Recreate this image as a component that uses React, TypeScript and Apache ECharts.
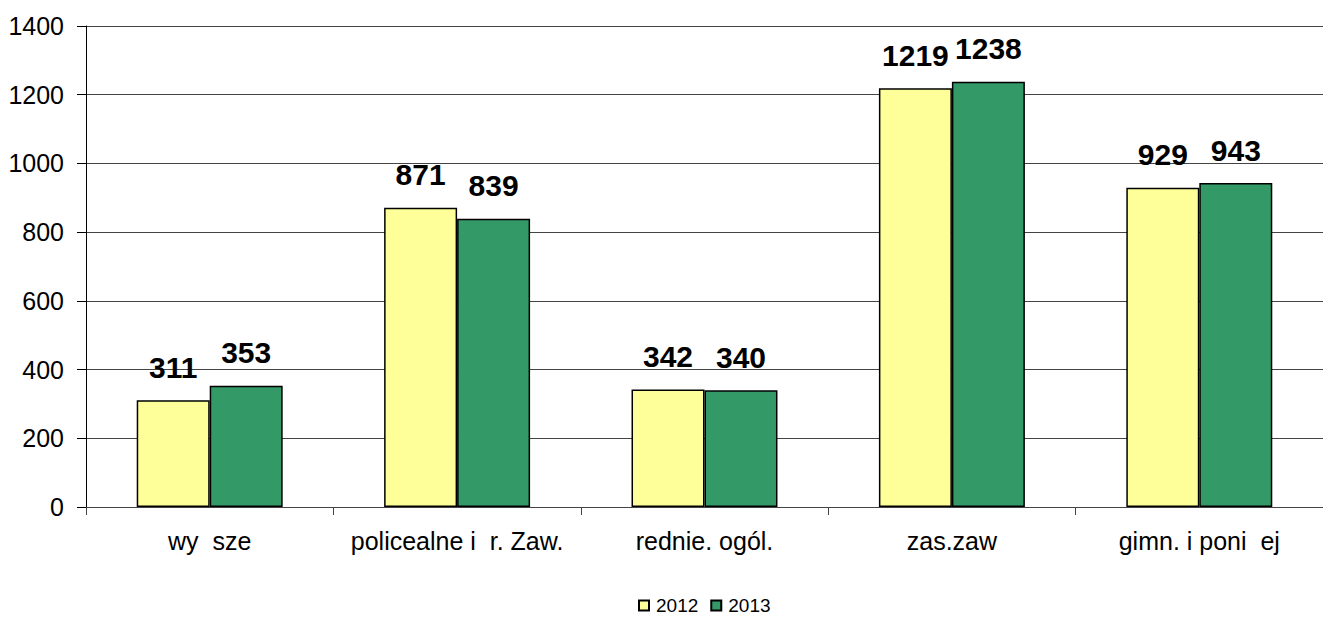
import React, { useEffect, useRef } from "react";
import * as echarts from "echarts";

const categories = ["wy  sze", "policealne i  r. Zaw.", "rednie. ogól.", "zas.zaw", "gimn. i poni  ej"];
const series2012 = [311, 871, 342, 1219, 929];
const series2013 = [353, 839, 340, 1238, 943];
const seriesNames = ["2012", "2013"];
const yTicks = { min: 0, max: 1400, interval: 200 };

const FONT = "'Liberation Sans', Arial, sans-serif";

export default function App() {
  const ref = useRef<HTMLDivElement>(null);
  useEffect(() => {
    if (!ref.current) return;
    const chart = echarts.init(ref.current, undefined, { renderer: "svg" });
    const labelStyle = {
      show: true,
      position: "top",
      distance: 18,
      fontFamily: FONT,
      fontWeight: "bold",
      fontSize: 30,
      color: "#000",
    };
    chart.setOption({
      animation: false,
      backgroundColor: "#fff",
      textStyle: { fontFamily: FONT },
      grid: { left: 86, top: 26, width: 1248, height: 481, containLabel: false },
      legend: {
        data: seriesNames,
        left: 638,
        top: 596,
        padding: 0,
        itemWidth: 10,
        itemHeight: 10,
        itemGap: 12,
        icon: "rect",
        textStyle: { fontFamily: FONT, fontSize: 19, lineHeight: 19, color: "#000", padding: [0, 0, 0, 2] },
      },
      xAxis: {
        type: "category",
        data: categories,
        axisLine: { lineStyle: { color: "#444", width: 1 } },
        axisTick: { show: true, length: 8, lineStyle: { color: "#444" } },
        axisLabel: { fontFamily: FONT, fontSize: 25, color: "#000", margin: 21, interval: 0 },
      },
      yAxis: {
        type: "value",
        min: yTicks.min,
        max: yTicks.max,
        interval: yTicks.interval,
        axisLine: { show: true, lineStyle: { color: "#000", width: 1 } },
        axisTick: { show: true, length: 9, lineStyle: { color: "#000" } },
        axisLabel: {
          fontFamily: FONT,
          fontSize: 25,
          color: "#000",
          margin: 22,
          formatter: (v: number) => String(v),
        },
        splitLine: { show: true, lineStyle: { color: "#444", width: 1 } },
      },
      series: [
        {
          name: seriesNames[0],
          type: "bar",
          data: series2012,
          barGap: "0%",
          barCategoryGap: "41%",
          itemStyle: { color: "#FFFF99", borderColor: "#000", borderWidth: 1.5 },
          label: labelStyle,
        },
        {
          name: seriesNames[1],
          type: "bar",
          data: series2013,
          barGap: "0%",
          barCategoryGap: "41%",
          itemStyle: { color: "#339966", borderColor: "#000", borderWidth: 1.5 },
          label: labelStyle,
        },
      ],
    });
    return () => chart.dispose();
  }, []);
  return (
    <div
      ref={ref}
      style={{ position: "absolute", left: 0, top: 0, width: 1323, height: 621, background: "#fff" }}
    />
  );
}
